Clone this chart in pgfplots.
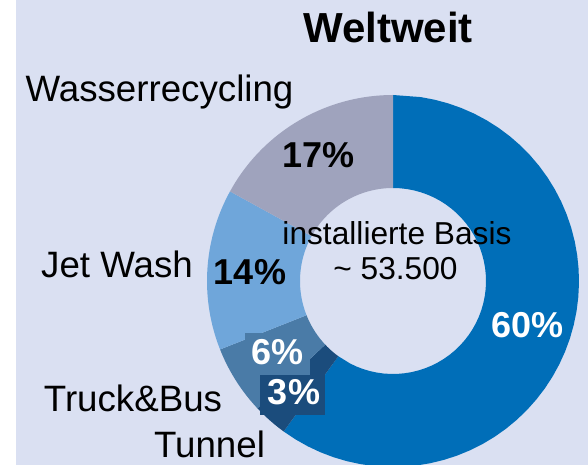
\documentclass[border=0pt]{standalone}
\usepackage{pgfplots}
\pgfplotsset{compat=1.18}
\usepackage{fontspec}
\setmainfont{Liberation Sans}
\definecolor{bg}{HTML}{DAE0F2}
\definecolor{cBlue}{HTML}{006EB8}
\definecolor{cNavy}{HTML}{1B4C7C}
\definecolor{cSteel}{HTML}{4A7BA7}
\definecolor{cLight}{HTML}{6FA6DA}
\definecolor{cGray}{HTML}{9FA3BD}
% #1 cumulative start (percent), #2 value (percent), #3 colour
\newcommand\wedgeplot[3]{%
  \pgfmathsetmacro\aS{90-3.6*(#1+#2)}%
  \pgfmathsetmacro\aW{3.6*#2}%
  \edef\temp{\noexpand\addplot[fill=#3, draw=none,
     samples at={0,0.02,...,0.98,1,2,2.02,...,2.98,3}]
     ({393+ifthenelse(x<1.5,186,93)*cos(ifthenelse(x<1.5,\aS+x*\aW,\aS+(3-x)*\aW))},
      {184+ifthenelse(x<1.5,186,93)*sin(ifthenelse(x<1.5,\aS+x*\aW,\aS+(3-x)*\aW))});}%
  \temp
}
\newcommand\lab[1]{\fontsize{36.7pt}{40pt}\selectfont #1}
\newcommand\pct[1]{\fontsize{36pt}{40pt}\selectfont\bfseries #1}
\begin{document}
\begin{tikzpicture}[x=1pt,y=1pt]
\fill[white] (0,0) rectangle (588,465);
\fill[bg] (16,0) rectangle (588,465);
\begin{axis}[
  at={(0,0)}, anchor=origin,
  x=1pt, y=1pt,
  xmin=0, xmax=588, ymin=0, ymax=465,
  hide axis, clip=true,
]
\wedgeplot{0}{60}{cBlue}
\wedgeplot{60}{3}{cNavy}
\wedgeplot{63}{6}{cSteel}
\wedgeplot{69}{14}{cLight}
\wedgeplot{83}{17}{cGray}
\end{axis}
% label boxes
\fill[cSteel] (245,132) rectangle (310,90);
\fill[cNavy] (260,90) rectangle (325,50);
% title and labels
\node[anchor=base, inner sep=0] at (388,422) {\fontsize{42pt}{46pt}\selectfont\bfseries Weltweit};
\node[anchor=base, inner sep=0] at (159.5,363) {\lab{Wasserrecycling}};
\node[anchor=base, inner sep=0] at (117,187) {\lab{Jet Wash}};
\node[anchor=base, inner sep=0] at (133,53) {\lab{Truck\&Bus}};
\node[anchor=base, inner sep=0] at (209.5,7) {\lab{Tunnel}};
% percentages
\node[anchor=base, inner sep=0] at (318.5,297) {\pct{17\%}};
\node[anchor=base, inner sep=0] at (250,180) {\pct{14\%}};
\node[anchor=base, inner sep=0, text=white] at (527.5,127) {\pct{60\%}};
\node[anchor=base, inner sep=0, text=white] at (277.5,100) {\pct{6\%}};
\node[anchor=base, inner sep=0, text=white] at (294,60) {\pct{3\%}};
% centre text
\node[anchor=base, inner sep=0] at (397,220) {\fontsize{31.7pt}{35pt}\selectfont installierte Basis};
\node[anchor=base, inner sep=0] at (395.5,185) {\fontsize{31.7pt}{35pt}\selectfont \textasciitilde{} 53.500};
\end{tikzpicture}
\end{document}
